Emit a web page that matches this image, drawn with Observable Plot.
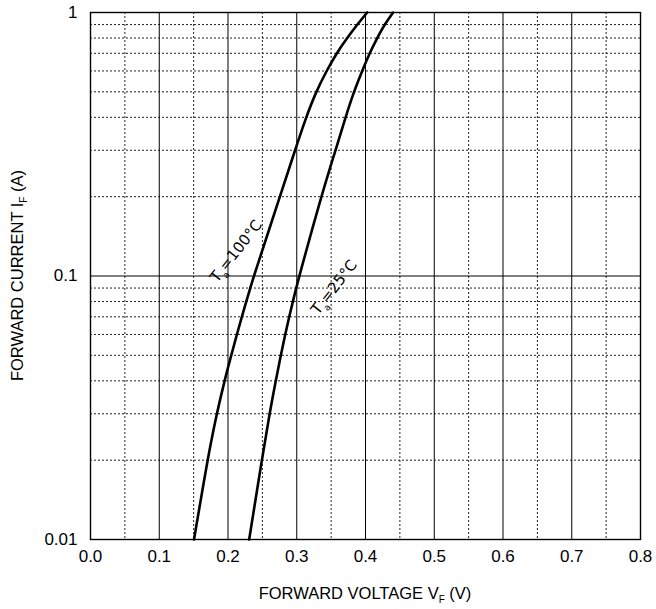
<!DOCTYPE html>
<html>
<head>
<meta charset="utf-8">
<script src="https://cdn.jsdelivr.net/npm/d3@7"></script>
<script src="https://cdn.jsdelivr.net/npm/@observablehq/plot@0.6"></script>
<style>
  html, body { margin: 0; padding: 0; background: #fff; }
  #chart svg { display: block; }
</style>
</head>
<body>
<div id="chart"></div>
<script>
// ---- data ----
const xTicks = [0, 0.1, 0.2, 0.3, 0.4, 0.5, 0.6, 0.7, 0.8];
const xMinor = [0.05, 0.15, 0.25, 0.35, 0.45, 0.55, 0.65, 0.75];
const yTicks = [0.01, 0.1, 1];
const yTickLabels = ["0.01", "0.1", "1"];
const yMinor = [0.02, 0.03, 0.04, 0.05, 0.06, 0.07, 0.08, 0.09, 0.2, 0.3, 0.4, 0.5, 0.6, 0.7, 0.8, 0.9];

// Ta = 100°C
const i100 = [0.01, 0.02, 0.03, 0.04, 0.05, 0.06, 0.07, 0.08, 0.09, 0.1, 0.2, 0.3, 0.4, 0.5, 0.6, 0.7, 0.8, 0.9, 1.0];
const v100 = [0.1506, 0.1700, 0.1835, 0.1949, 0.2047, 0.2129, 0.2202, 0.2265, 0.2324, 0.2376, 0.2755, 0.2975, 0.3135, 0.3280, 0.3433, 0.3578, 0.3733, 0.3880, 0.4024];
// Ta = 25°C
const i25 = [0.01, 0.02, 0.03, 0.04, 0.05, 0.06, 0.07, 0.08, 0.1, 0.2, 0.3, 0.4, 0.5, 0.6, 0.7, 0.8, 0.9, 1.0];
const v25 = [0.2308, 0.2492, 0.2604, 0.2695, 0.2768, 0.2832, 0.2890, 0.2943, 0.3035, 0.3355, 0.3564, 0.3709, 0.3830, 0.3952, 0.4058, 0.4170, 0.4276, 0.4402];

const labels = [
  {main: "T", sub: "a", rest: "=100°C", v: 0.2122, i: 0.124},
  {main: "T", sub: "a", rest: "=25°C", v: 0.3547, i: 0.0904}
];
const xTitle = {main: "FORWARD VOLTAGE V", sub: "F", rest: " (V)"};
const yTitle = {main: "FORWARD CURRENT I", sub: "F", rest: " (A)"};

const s100 = v100.map((v, k) => ({v, i: i100[k]}));
const s25 = v25.map((v, k) => ({v, i: i25[k]}));

const sans = "'Liberation Sans', Arial, sans-serif";

const plot = Plot.plot({
  width: 656,
  height: 609,
  marginLeft: 90,
  marginRight: 16,
  marginTop: 12,
  marginBottom: 70,
  style: {fontFamily: sans, background: "#fff"},
  x: {domain: [0, 0.8], axis: null},
  y: {type: "log", domain: [0.01, 1], axis: null},
  marks: [
    Plot.ruleX(xMinor, {stroke: "#222", strokeWidth: 1, strokeDasharray: "2,2"}),
    Plot.ruleY(yMinor, {stroke: "#222", strokeWidth: 1, strokeDasharray: "2,2"}),
    Plot.ruleX(xTicks, {stroke: "#000", strokeWidth: 1}),
    Plot.ruleY([0.1], {stroke: "#000", strokeWidth: 1}),
    Plot.frame({stroke: "#000", strokeWidth: 1.4}),
    Plot.line(s100, {x: "v", y: "i", stroke: "#000", strokeWidth: 2.6, curve: "basis"}),
    Plot.line(s25, {x: "v", y: "i", stroke: "#000", strokeWidth: 2.6, curve: "basis"}),
    Plot.text(xTicks, {x: d => d, frameAnchor: "bottom", text: d => d3.format(".1f")(d),
      dy: 22, fontSize: 17, fill: "#000"}),
    Plot.text(yTicks, {y: d => d, frameAnchor: "left", text: (d, k) => yTickLabels[k],
      textAnchor: "end", dx: -13, fontSize: 17, fill: "#000"})
  ]
});

document.getElementById("chart").appendChild(plot);

const svg = d3.select(plot);
const xs = plot.scale("x"), ys = plot.scale("y");

function addRich(g, t, subSize, subDy) {
  g.append("tspan").text(t.main);
  g.append("tspan").attr("font-size", subSize).attr("dy", subDy).text(t.sub);
  g.append("tspan").attr("dy", -subDy).text(t.rest);
}

// axis titles
const xMid = (xs.apply(0) + xs.apply(0.8)) / 2;
const yMid = (ys.apply(0.01) + ys.apply(1)) / 2;
const xt = svg.append("text")
  .attr("x", xMid).attr("y", 599)
  .attr("text-anchor", "middle")
  .attr("font-family", sans).attr("font-size", 16.5).attr("fill", "#000");
addRich(xt, xTitle, 10, 4);

const yt = svg.append("text")
  .attr("transform", `translate(23,${yMid}) rotate(-90)`)
  .attr("text-anchor", "middle")
  .attr("font-family", sans).attr("font-size", 16.5).attr("fill", "#000");
addRich(yt, yTitle, 10, 4);

// curve labels
for (const L of labels) {
  const px = xs.apply(L.v), py = ys.apply(L.i);
  const t = svg.append("text")
    .attr("transform", `translate(${px},${py}) rotate(-52)`)
    .attr("text-anchor", "middle")
    .attr("dy", "0.35em")
    .attr("font-family", "'DejaVu Sans', sans-serif")
    .attr("font-size", 15).attr("fill", "#000");
  t.append("tspan").text(L.main);
  t.append("tspan").attr("font-size", 9).attr("dy", 5).text(L.sub);
  t.append("tspan").attr("dy", -5).text(L.rest);
}
</script>
</body>
</html>
